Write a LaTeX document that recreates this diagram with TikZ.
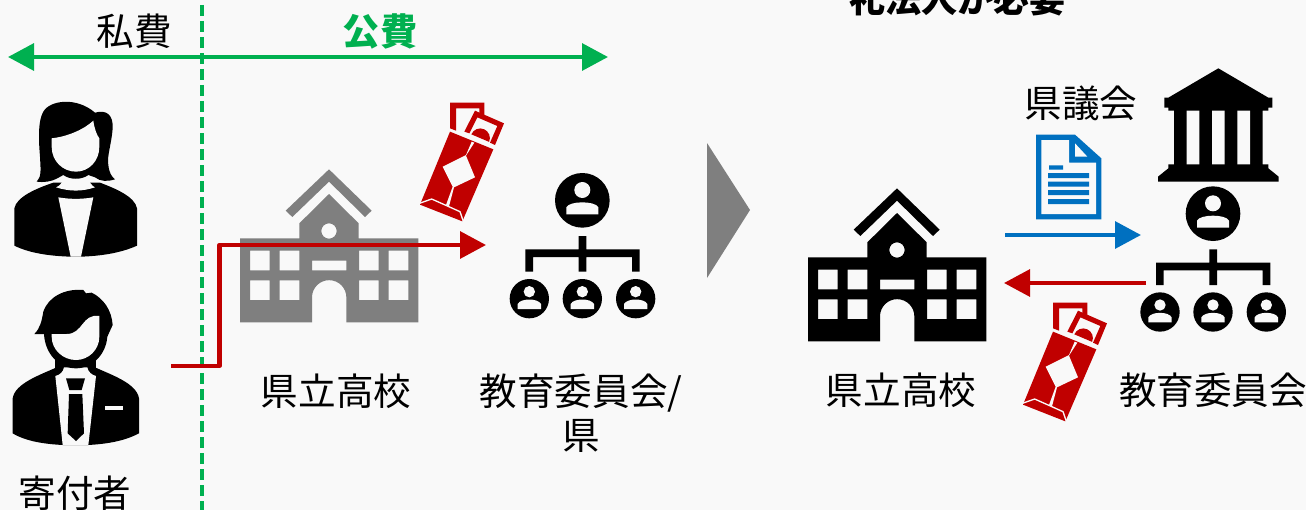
\documentclass[tikz,border=0pt]{standalone}
\usepackage{fontspec}
\usetikzlibrary{arrows.meta}
\setmainfont{Noto Sans CJK JP}
\definecolor{bgc}{HTML}{F9F9F9}
\definecolor{grn}{HTML}{00B050}
\definecolor{rd}{HTML}{C00000}
\definecolor{blu}{HTML}{0070C0}
\definecolor{gry}{HTML}{7F7F7F}
\tikzset{
  label text/.style={font=\fontsize{28.2pt}{33pt}\selectfont,text=black,inner sep=0pt,align=center},
  bold text/.style={label text,font=\fontsize{27.9pt}{33pt}\selectfont\bfseries},
  bigtip/.style={-{Triangle[length=19.5pt,width=20pt]}},
  flow/.style={line width=3.2pt,line join=round},
  zoomed/.style={x=.25pt,y=-.25pt,shift={#1}},
  pics/school/.style={code={
    \fill[#1,even odd rule] (30,445)--(208,445)--(208,400)--(297,312)--(386,400)--(386,445)--(565,445)--(565,697)--(349,697)--(349,622) arc[start angle=0,end angle=-180,radius=51.5]--(246,697)--(30,697)--cycle
      (60,482) rectangle (119,541) (149,482) rectangle (208,541) (387,482) rectangle (446,541) (476,482) rectangle (535,541)
      (60,571) rectangle (119,630) (149,571) rectangle (208,630) (387,571) rectangle (446,630) (476,571) rectangle (535,630)
      (246,512) rectangle (349,541) (297,423) circle[radius=23];
    \fill[#1] (167,362)--(297,238)--(425,362)--(405,381)--(297,275)--(187,381)--cycle;
  }},
  pics/bill/.style={code={
    \fill[rd] (660,115)--(660,38)--(763,38)--(763,80)--(748,73)--(748,55)--(678,55)--(678,122)--cycle;
    \fill[rd] (735,62)--(822,100)--(795,165)--(780,158)--(802,108)--(742,82)--(718,130)--(703,125)--cycle;
    \fill[rd] (724,133) arc[start angle=203,end angle=383,radius=29]--cycle;
    \fill[rd] (660,125)--(790,178)--(697,394)--(570,344)--cycle;
    \fill[bgc] (725,155)--(708,195)--(638,230)--(668,290)--(648,345)--(657,349)--(672,292)--(735,262)--(708,197)--(733,158)--cycle;
    \draw[bgc,line width=1pt] (568,340)--(605,327)--(690,365)--(700,394);
  }},
  pics/org/.style={code={
    \fill[black] (639,461) circle[radius=82];
    \fill[bgc] (639,430) circle[radius=24];
    \fill[bgc] (591,503)--(591,482) .. controls (600,462) and (678,462) .. (687,482)--(687,503)--cycle;
    \fill[black] (628,568) rectangle (651,608) (468,608) rectangle (811,631) (468,631) rectangle (491,675) (628,631) rectangle (651,675) (788,631) rectangle (811,675);
    \foreach \cx in {480,639,799}{
      \fill[black] (\cx,756) circle[radius=59];
      \fill[bgc] (\cx,735) circle[radius=17];
      \fill[bgc] (\cx-35,787)--(\cx-35,772) .. controls (\cx-26,754) and (\cx+26,754) .. (\cx+35,772)--(\cx+35,787)--cycle;
    }
  }}
}
\begin{document}
\begin{tikzpicture}[x=.75pt,y=-.75pt]
\useasboundingbox (0,0) rectangle (1306,510);
\fill[bgc] (0,0) rectangle (1306,510);
\clip (0,0) rectangle (1306,510);

% split
\coordinate (splitTop) at (202,5);
\coordinate (splitBot) at (202,510);
\draw[grn,line width=3.2pt,dash pattern=on 8.2pt off 3.8pt] (splitTop)--(splitBot);
\coordinate (spanL) at (8,57);
\coordinate (spanR) at (608,57);
\draw[grn,line width=3.2pt,{Triangle[length=19.5pt,width=20pt]}-{Triangle[length=19.5pt,width=20pt]}] (spanL)--(spanR);
\node[label text] (private) at (134,31) {私費};
\node[bold text,text=grn] (public) at (380,31) {公費};
\node[bold text,font=\fontsize{27pt}{33pt}\selectfont\bfseries] (title) at (957,-1) {礼法人が必要};

% woman
\begin{scope}[zoomed={(0,240)}]
\fill[black] (43,385) .. controls (50,350) and (110,325) .. (160,308)--(300,308) .. controls (345,325) and (405,350) .. (411,385)--(411,497) .. controls (360,520) and (300,528) .. (243,530)--(212,530) .. controls (150,528) and (90,520) .. (43,497)--cycle;
\fill[bgc] (175,352) .. controls (210,358) and (245,358) .. (280,352)--(243,530)--(212,530)--cycle;
\fill[bgc] (168,322) .. controls (180,318) and (188,305) .. (190,296)--(265,296) .. controls (268,305) and (275,318) .. (285,322) .. controls (245,335) and (210,335) .. (168,322)--cycle;
\fill[black] (110,305) .. controls (125,290) and (122,270) .. (120,230) .. controls (115,170) and (115,120) .. (130,95) .. controls (150,60) and (230,50) .. (285,98) .. controls (320,88) and (340,105) .. (338,145) .. controls (335,190) and (320,230) .. (325,255) .. controls (328,280) and (335,290) .. (345,298) .. controls (325,305) and (300,305) .. (285,292) -- (265,285) .. controls (245,300) and (210,300) .. (190,285)--(172,295) .. controls (155,305) and (130,308) .. (110,305)--cycle;
\fill[bgc] (155,175) .. controls (200,170) and (250,150) .. (280,122) .. controls (283,145) and (290,165) .. (298,175)--(298,200) .. controls (298,245) and (265,275) .. (228,275) .. controls (190,275) and (155,245) .. (155,200)--cycle;
\end{scope}

% man
\begin{scope}[zoomed={(0,240)}]
\fill[black] (38,955) .. controls (45,910) and (120,885) .. (170,862)--(285,862) .. controls (335,885) and (410,910) .. (417,955)--(417,1060) .. controls (370,1085) and (315,1092) .. (265,1095)--(188,1095) .. controls (135,1092) and (80,1085) .. (38,1060)--cycle;
\fill[black] (166,840) rectangle (288,880);
\fill[bgc] (166,888) .. controls (180,885) and (190,875) .. (192,862)--(262,862) .. controls (264,875) and (275,885) .. (288,888)--(265,1095)--(188,1095)--cycle;
\fill[black] (198,895)--(255,895)--(245,930)--(208,930)--cycle;
\fill[black] (207,942)--(247,942)--(252,1060)--(228,1083)--(203,1060)--cycle;
\fill[bgc] (316,977) rectangle (369,990);
\fill[black] (103,762) .. controls (120,745) and (125,725) .. (130,695) .. controls (145,650) and (195,625) .. (250,630)--(258,640)--(275,638) .. controls (310,655) and (335,690) .. (338,735)--(322,770) .. controls (318,825) and (275,865) .. (228,865) .. controls (175,865) and (135,820) .. (132,762)--cycle;
\fill[bgc] (155,762)--(200,762) .. controls (250,762) and (245,700) .. (298,708)--(298,770) .. controls (298,810) and (265,840) .. (228,840) .. controls (190,840) and (155,810) .. (155,770)--cycle;
\end{scope}

\node[label text] (donor) at (75,493) {寄付者};

% left school and network
\begin{scope}[zoomed={(690,270)}]
\pic {school={gry}};
\pic {bill};
\end{scope}
\begin{scope}[zoomed={(1108,140)}]
\pic {org};
\end{scope}
\node[label text] (schoolL) at (336,391) {県立高校};
\node[label text] (boardL) at (581,413) {教育委員会/\\県};

% flow
\coordinate (donorOut) at (171,366);
\coordinate (boardIn) at (486,245);
\draw[rd,flow,bigtip] (donorOut)-|(219.5,245)--(boardIn);

% chevron
\fill[gry] (707,143)--(750,210)--(707,278)--cycle;

% right school
\begin{scope}[zoomed={(2394,327)}]
\pic {school={black}};
\end{scope}
\node[label text] (schoolR) at (901,390) {県立高校};

% assembly
\begin{scope}[zoomed={(3000,180)}]
\fill[black] (655,25)--(805,113)--(817,113)--(817,143)--(805,143)--(805,152)--(788,152)--(788,313)--(805,313)--(805,325)--(836,350)--(836,365)--(474,365)--(474,350)--(505,325)--(505,313)--(522,313)--(522,152)--(505,152)--(505,143)--(493,143)--(493,113)--(505,113)--cycle;
\fill[bgc] (560,152) rectangle (598,313) (636,152) rectangle (674,313) (712,152) rectangle (750,313);
\pic {org};
% doc
\fill[blu] (108,224)--(225,224)--(304,295)--(304,478)--(108,478)--cycle;
\fill[bgc] (124,240)--(207,240)--(207,308)--(288,308)--(288,462)--(124,462)--cycle;
\fill[bgc] (225,250)--(262,290)--(225,290)--cycle;
\fill[blu] (147,316) rectangle (189,329) (144,339) rectangle (267,354) (144,365) rectangle (267,380) (144,390) rectangle (267,405) (144,417) rectangle (267,432);
\end{scope}
\begin{scope}[zoomed={(2499,870)}]
\pic {bill};
\end{scope}
\node[label text] (council) at (1081,103) {県議会};
\node[label text] (boardR) at (1213,390) {教育委員会};

\coordinate (docFrom) at (1005,235);
\coordinate (docTo) at (1141,235);
\draw[blu,flow,bigtip] (docFrom)--(docTo);
\coordinate (moneyFrom) at (1146,283);
\coordinate (moneyTo) at (1004,283);
\draw[rd,flow,bigtip] (moneyFrom)--(moneyTo);
\end{tikzpicture}
\end{document}
